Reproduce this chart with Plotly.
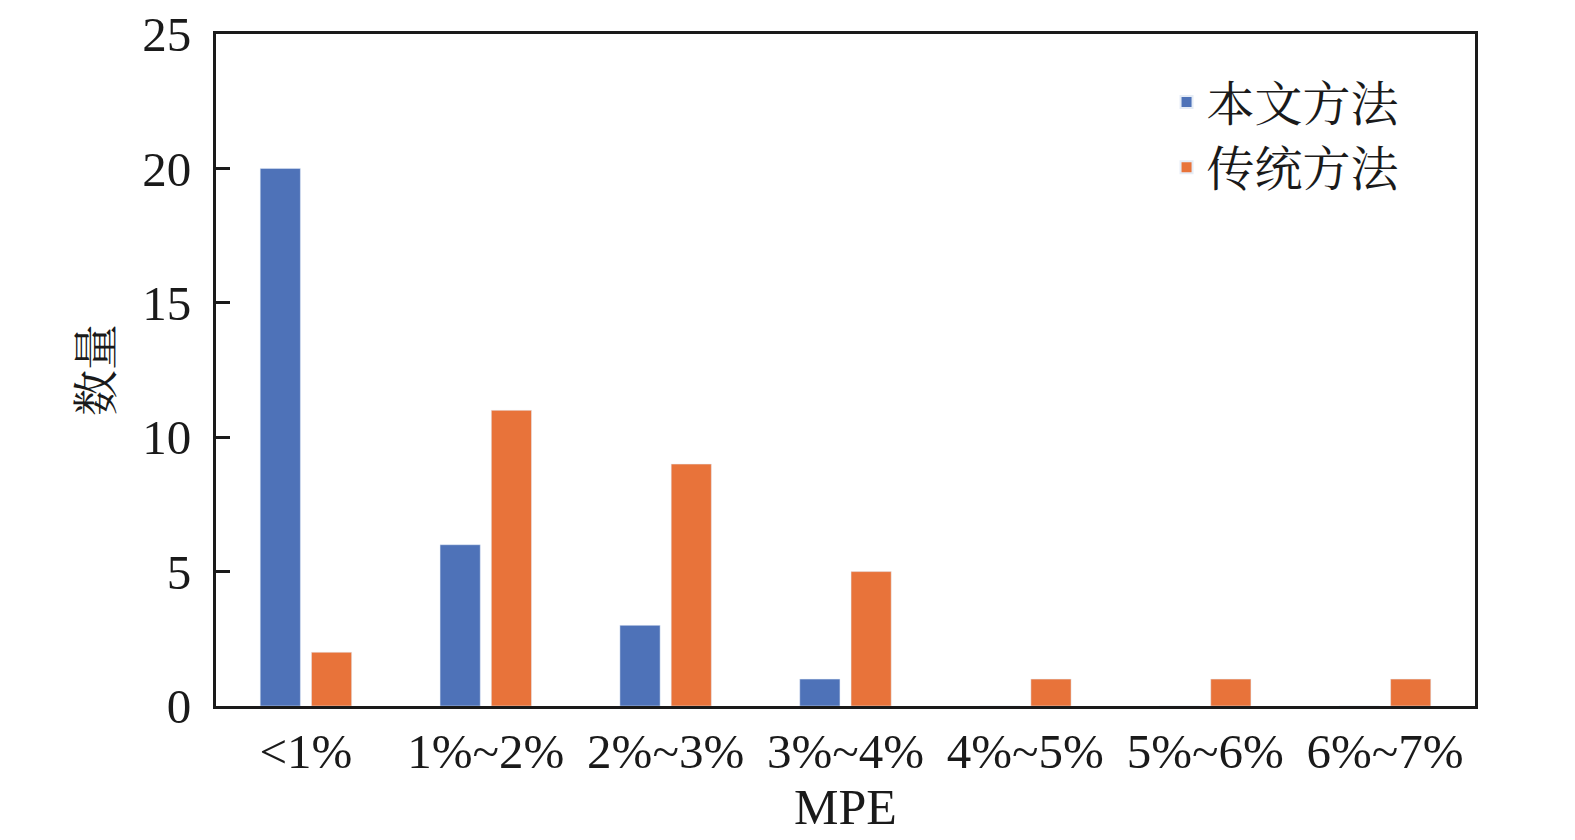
import plotly.graph_objects as go

categories = ["<1%", "1%~2%", "2%~3%", "3%~4%", "4%~5%", "5%~6%", "6%~7%"]
ours = [20, 6, 3, 1, 0, 0, 0]
traditional = [2, 11, 9, 5, 1, 1, 1]
series_names = ["本文方法", "传统方法"]
y_ticks = [0, 5, 10, 15, 20, 25]

FONT = "Liberation Serif, Times New Roman, Noto Sans CJK SC, serif"
CJK = "Noto Serif CJK SC, Noto Sans CJK SC, serif"

fig = go.Figure()
fig.add_trace(go.Bar(x=categories, y=ours, name=series_names[0], marker_color="#4E72B8"))
fig.add_trace(go.Bar(x=categories, y=traditional, name=series_names[1], marker_color="#E8733A"))

fig.update_layout(
    width=1575, height=840,
    margin=dict(l=208, r=108, t=26, b=142, autoexpand=False),
    paper_bgcolor="white", plot_bgcolor="white",
    barmode="group", bargap=0.43, bargroupgap=0.216,
    font=dict(family=FONT, size=48, color="#1a1a1a"),
    showlegend=True,
    legend=dict(x=0.755, y=0.955, xanchor="left", yanchor="top",
                font=dict(size=48, family=CJK, color="#1a1a1a"),
                bgcolor="rgba(0,0,0,0)", tracegroupgap=0, itemsizing="constant",
                itemwidth=30),
)
fig.update_xaxes(
    showline=True, linecolor="#1a1a1a", linewidth=3, mirror=True,
    ticks="", showgrid=False, automargin=False,
    tickfont=dict(size=49, family=FONT),
    title=dict(text="MPE", font=dict(size=50, family=FONT), standoff=6),
)
fig.update_yaxes(
    range=[0, 25], tickvals=y_ticks,
    showline=True, linecolor="#1a1a1a", linewidth=3, mirror=True,
    ticks="inside", ticklen=14, tickwidth=3, tickcolor="#1a1a1a",
    showgrid=False, zeroline=False, ticklabeloverflow="allow",
    ticklabelstandoff=12, automargin=False,
    tickfont=dict(size=49, family=FONT),
    title=dict(text="数量", font=dict(size=46, family=CJK), standoff=16),
)
fig.write_html("out.html")
